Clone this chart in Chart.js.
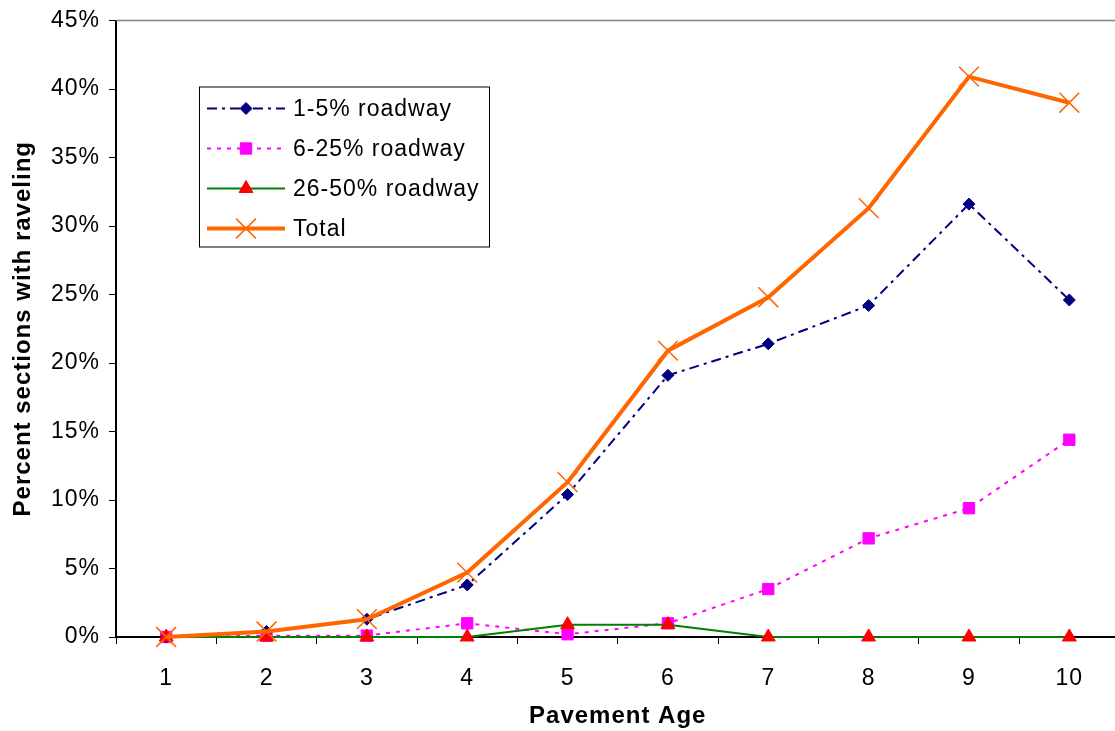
<!DOCTYPE html>
<html>
<head>
<meta charset="utf-8">
<script src="https://cdn.jsdelivr.net/npm/chart.js@4"></script>
<style>
  html, body { margin: 0; padding: 0; background: #fff; overflow: hidden; }
  #wrap { width: 1135px; height: 731px; }
</style>
</head>
<body>
<div id="wrap"><canvas id="c" width="1135" height="731"></canvas></div>
<script>
// Pavement age (years)
const ages = ['1', '2', '3', '4', '5', '6', '7', '8', '9', '10'];

// Percent of sections with raveling, by extent of roadway affected
const raveling1to5 = [0, 0.4, 1.3, 3.8, 10.4, 19.1, 21.4, 24.2, 31.6, 24.6];
const raveling6to25 = [0, 0.1, 0.1, 1.0, 0.2, 1.0, 3.5, 7.2, 9.4, 14.4];
const raveling26to50 = [0, 0, 0, 0, 0.9, 0.9, 0, 0, 0, 0];
const ravelingTotal = [0, 0.4, 1.3, 4.7, 11.3, 20.9, 24.8, 31.3, 40.9, 39.0];

const yTickLabels = ['0%', '5%', '10%', '15%', '20%', '25%', '30%', '35%', '40%', '45%'];

const FONT = '"Liberation Sans", Arial, Helvetica, sans-serif';
const SPACING = '1px';

const series = [
  {
    label: '1-5% roadway', data: raveling1to5, order: 2,
    borderColor: '#000080', backgroundColor: '#000080', borderWidth: 2,
    borderDash: [10, 5, 3, 5],
    pointStyle: 'rectRot', pointRadius: 6, pointBorderWidth: 1,
    pointBackgroundColor: '#000080', pointBorderColor: '#000080'
  },
  {
    label: '6-25% roadway', data: raveling6to25, order: 3,
    borderColor: '#FF00FF', backgroundColor: '#FF00FF', borderWidth: 2,
    borderDash: [4, 6],
    pointStyle: 'rect', pointRadius: 8, pointBorderWidth: 1,
    pointBackgroundColor: '#FF00FF', pointBorderColor: '#FF00FF'
  },
  {
    label: '26-50% roadway', data: raveling26to50, order: 1,
    borderColor: '#008000', backgroundColor: '#FF0000', borderWidth: 2,
    borderDash: [],
    pointStyle: 'triangle', pointRadius: 8, pointBorderWidth: 1,
    pointBackgroundColor: '#FF0000', pointBorderColor: '#FF0000'
  },
  {
    label: 'Total', data: ravelingTotal, order: 0,
    borderColor: '#FF6600', backgroundColor: '#FF6600', borderWidth: 4,
    borderDash: [],
    pointStyle: 'crossRot', pointRadius: 14, pointBorderWidth: 1.5,
    pointBackgroundColor: '#FF6600', pointBorderColor: '#FF6600'
  }
];

function setSpacing(chart) {
  if ('letterSpacing' in chart.ctx) chart.ctx.letterSpacing = SPACING;
}

// Frame line along the top and the boxed legend inside the plot area
const framePlugin = {
  id: 'frame',
  beforeUpdate: setSpacing,
  beforeLayout: setSpacing,
  beforeDraw: setSpacing,
  afterDraw(chart) {
    const ctx = chart.ctx;
    const a = chart.chartArea;
    ctx.save();
    ctx.strokeStyle = '#808080';
    ctx.lineWidth = 1.5;
    ctx.beginPath();
    ctx.moveTo(a.left, a.top);
    ctx.lineTo(a.right, a.top);
    ctx.lineTo(a.right, a.bottom);
    ctx.stroke();

    // legend box
    const bx = a.left + 83, by = a.top + 66, bw = 290, bh = 160;
    ctx.fillStyle = '#fff';
    ctx.fillRect(bx, by, bw, bh);
    ctx.strokeStyle = '#000';
    ctx.lineWidth = 1;
    ctx.strokeRect(bx + 0.5, by + 0.5, bw, bh);

    series.forEach((s, i) => {
      const y = by + 22 + i * 40;
      ctx.save();
      ctx.strokeStyle = s.borderColor;
      ctx.lineWidth = s.borderWidth;
      ctx.setLineDash(s.borderDash);
      ctx.beginPath();
      ctx.moveTo(bx + 8, y);
      ctx.lineTo(bx + 86, y);
      ctx.stroke();
      ctx.setLineDash([]);
      ctx.fillStyle = s.pointBackgroundColor;
      ctx.strokeStyle = s.pointBorderColor;
      ctx.lineWidth = s.pointBorderWidth;
      Chart.helpers.drawPoint(ctx, {
        pointStyle: s.pointStyle, radius: s.pointRadius,
        rotation: 0, borderWidth: s.pointBorderWidth
      }, bx + 47, y);
      ctx.restore();

      ctx.fillStyle = '#000';
      ctx.font = '23px ' + FONT;
      if ('letterSpacing' in ctx) ctx.letterSpacing = SPACING;
      ctx.textAlign = 'left';
      ctx.textBaseline = 'middle';
      ctx.fillText(s.label, bx + 94, y + 1);
    });
    ctx.restore();
  }
};

new Chart(document.getElementById('c'), {
  type: 'line',
  data: {
    labels: ages,
    datasets: series.map(s => Object.assign({ tension: 0, fill: false, clip: false }, s))
  },
  options: {
    responsive: false,
    animation: false,
    devicePixelRatio: 1,
    layout: { padding: { top: 19, right: 6, left: 0, bottom: 0 } },
    plugins: { legend: { display: false }, tooltip: { enabled: false } },
    scales: {
      x: {
        type: 'category',
        offset: true,
        grid: {
          display: true, drawOnChartArea: false, drawTicks: true,
          tickLength: 7, offset: true, color: '#000', lineWidth: 1
        },
        border: { display: true, color: '#000', width: 2 },
        ticks: { color: '#000', font: { family: FONT, size: 23 }, padding: 21, maxRotation: 0 },
        title: {
          display: true, text: 'Pavement Age', color: '#000',
          font: { family: FONT, size: 24, weight: 'bold' },
          padding: { top: 0, bottom: 0 }
        },
        afterFit(scale) { scale.height = 94; }
      },
      y: {
        min: 0, max: 45,
        grid: {
          display: true, drawOnChartArea: false, drawTicks: true,
          tickLength: 7, color: '#000', lineWidth: 1
        },
        border: { display: true, color: '#000', width: 2 },
        ticks: {
          stepSize: 5, color: '#000', padding: 9,
          font: { family: FONT, size: 23, lineHeight: 1 },
          callback: (v, i) => yTickLabels[i]
        },
        title: {
          display: true, text: 'Percent sections with raveling', color: '#000',
          font: { family: FONT, size: 24, weight: 'bold' },
          padding: { top: 9, bottom: 0 }
        },
        afterFit(scale) { scale.width = 116; }
      }
    }
  },
  plugins: [framePlugin]
});
</script>
</body>
</html>
